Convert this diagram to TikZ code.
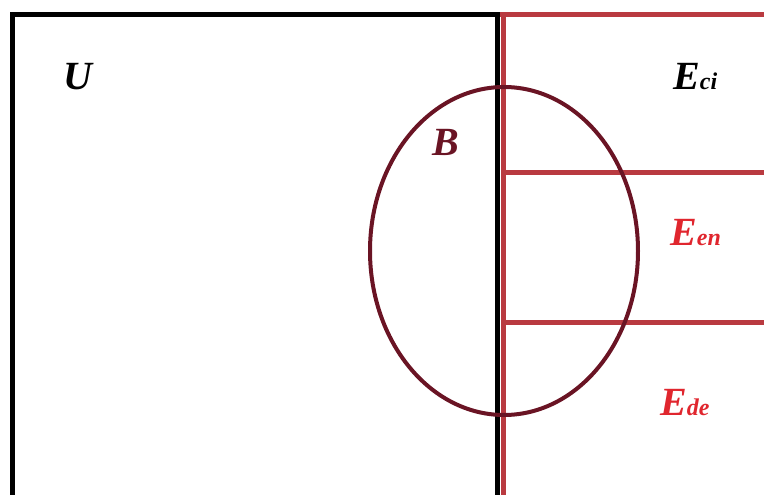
\documentclass[tikz,border=0pt]{standalone}
\usepackage{fontspec}
\setmainfont{Liberation Serif}
\usetikzlibrary{positioning}

\definecolor{setred}{HTML}{B93A40}
\definecolor{setmaroon}{HTML}{6A1424}
\definecolor{labelred}{HTML}{E0262E}

\begin{document}
\begin{tikzpicture}[
  x=1pt,y=-1pt,
  frame/.style={line width=5pt,black},
  part/.style={line width=5pt,setred},
  blob/.style={line width=4pt,setmaroon},
  setlabel/.style={inner sep=0pt,anchor=base west,font=\bfseries\itshape\fontsize{40}{40}\selectfont}
]
  \useasboundingbox (0,0) rectangle (764,495);

  % universe and the three parts of E
  \coordinate (ul) at (12.5,14.5);
  \coordinate (ur) at (497.5,14.5);
  \coordinate (ll) at (12.5,495);
  \coordinate (lr) at (497.5,495);
  \draw[frame] (ll) -- (ul) -- (ur) -- (lr);

  \coordinate (et) at (503,15);
  \coordinate (eb) at (503,495);
  \draw[part] (et) -- (eb);
  \draw[part] (500,15) -- (764,15);
  \draw[part] (503,172) -- (764,172);
  \draw[part] (503,322) -- (764,322);

  % set B
  \draw[blob] (504,251) ellipse [x radius=134,y radius=164];

  \node[setlabel] (u) at (63,89) {U};
  \node[setlabel,setmaroon] (b) at (432,155) {B};
  \node[setlabel] (eci) at (673,90) {E{\fontsize{24}{24}\selectfont ci}};
  \node[setlabel,labelred] (een) at (670,245) {E{\fontsize{24}{24}\selectfont en}};
  \node[setlabel,labelred] (ede) at (660,415) {E{\fontsize{24}{24}\selectfont de}};
\end{tikzpicture}
\end{document}
